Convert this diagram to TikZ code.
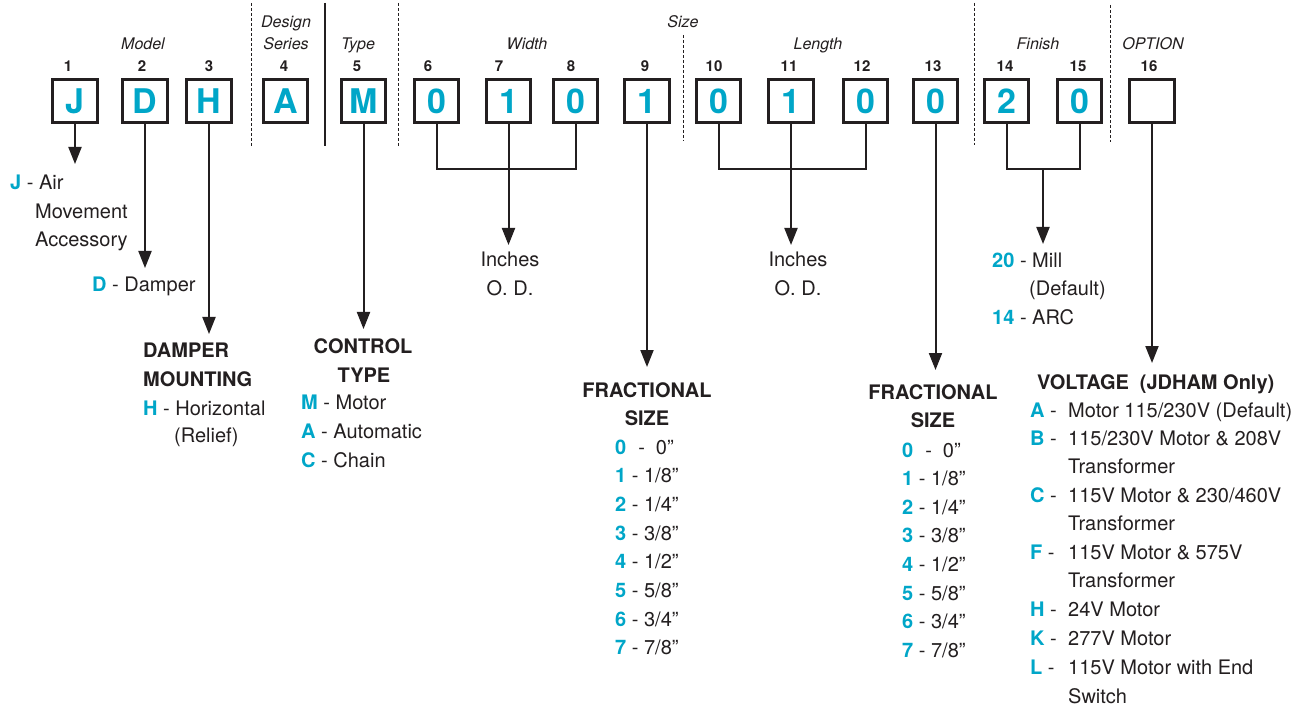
\documentclass[tikz,border=0pt]{standalone}
\usepackage{fontspec}
\setmainfont{TeX Gyre Heros}
\usetikzlibrary{arrows.meta}
\definecolor{cy}{RGB}{0,166,200}
\definecolor{ink}{RGB}{35,31,32}
\newcommand{\cy}[1]{\textcolor{cy}{\textbf{#1}}}
\begin{document}
\begin{tikzpicture}[x=1pt,y=-1pt,
  box/.style={draw=ink, line width=3.3pt, minimum width=44.5pt, minimum height=43pt, inner sep=0pt, font=\fontsize{34}{34}\selectfont\bfseries, text=cy},
  num/.style={font=\fontsize{15}{15}\selectfont\bfseries, text=ink, anchor=base, inner sep=0pt},
  grp/.style={font=\fontsize{16}{16}\selectfont\itshape, text=ink, anchor=base, inner sep=0pt},
  txt/.style={font=\fontsize{20}{20}\selectfont, text=ink, anchor=base west, inner sep=0pt},
  txc/.style={txt, anchor=base},
  hd/.style={font=\fontsize{20}{20}\selectfont\bfseries, text=ink, anchor=base, inner sep=0pt},
  hdw/.style={hd, anchor=base west},
  link/.style={draw=ink, line width=2pt},
  arr/.style={link, -{Triangle[width=13pt,length=17pt]}},
  sepd/.style={draw=ink, line width=1pt, dash pattern=on 3pt off 2pt},
  seps/.style={draw=ink, line width=1.2pt},
]
\fill[white] (0,0) rectangle (1309,711);
\useasboundingbox (0,0) rectangle (1309,711);

% separators
\coordinate (s1a) at (251,3);   \coordinate (s1b) at (251,147);
\coordinate (s2a) at (325,3);   \coordinate (s2b) at (325,146);
\coordinate (s3a) at (398,3);   \coordinate (s3b) at (398,146);
\coordinate (s4a) at (683,35);  \coordinate (s4b) at (683,141);
\coordinate (s5a) at (974,3);   \coordinate (s5b) at (974,145);
\coordinate (s6a) at (1110,5);  \coordinate (s6b) at (1110,142);
\draw[sepd] (s1a) -- (s1b);
\draw[seps] (s2a) -- (s2b);
\draw[sepd] (s3a) -- (s3b);
\draw[sepd] (s4a) -- (s4b);
\draw[sepd] (s5a) -- (s5b);
\draw[sepd] (s6a) -- (s6b);

% group labels
\node[grp] (gModel) at (143,50) {Model};
\node[grp] (gDesign) at (286,28) {Design};
\node[grp] (gSeries) at (286,50) {Series};
\node[grp] (gType) at (358,50) {Type};
\node[grp] (gWidth) at (527,50) {Width};
\node[grp] (gSize) at (683,28) {Size};
\node[grp] (gLength) at (818,50) {Length};
\node[grp] (gFinish) at (1038,50) {Finish};
\node[grp] (gOption) at (1153,50) {OPTION};

% position numbers
\node[num] (n1) at (68,72) {1};
\node[num] (n2) at (142,72) {2};
\node[num] (n3) at (209,72) {3};
\node[num] (n4) at (284,72) {4};
\node[num] (n5) at (357,72) {5};
\node[num] (n6) at (428,72) {6};
\node[num] (n7) at (499,72) {7};
\node[num] (n8) at (571,72) {8};
\node[num] (n9) at (645,72) {9};
\node[num] (n10) at (714,72) {10};
\node[num] (n11) at (789,72) {11};
\node[num] (n12) at (862,72) {12};
\node[num] (n13) at (933,72) {13};
\node[num] (n14) at (1005,72) {14};
\node[num] (n15) at (1078,72) {15};
\node[num] (n16) at (1149,72) {16};

% boxes
\node[box] (b1) at (75,101) {J};
\node[box] (b2) at (145,101) {D};
\node[box] (b3) at (209,101) {H};
\node[box] (b4) at (285.5,101) {A};
\node[box] (b5) at (363.5,101) {M};
\node[box] (b6) at (436.5,101) {0};
\node[box] (b7) at (508.5,101) {1};
\node[box] (b8) at (575.5,101) {0};
\node[box] (b9) at (647,101) {1};
\node[box] (b10) at (718.5,101) {0};
\node[box] (b11) at (791,101) {1};
\node[box] (b12) at (865.5,101) {0};
\node[box] (b13) at (935.5,101) {0};
\node[box] (b14) at (1006.5,101) {2};
\node[box] (b15) at (1079.5,101) {0};
\node[box] (b16) at (1152,101) {};

% arrow tips / bracket points
\coordinate (t1) at (75,164);
\coordinate (t2) at (145,268);
\coordinate (t3) at (209,334);
\coordinate (t5) at (363.5,329);
\coordinate (wbr) at (508.5,169);
\coordinate (tw) at (508.5,245);
\coordinate (t9) at (647,367);
\coordinate (lbr) at (791,169);
\coordinate (tl) at (791,245);
\coordinate (t13) at (935.5,370);
\coordinate (fbr) at (1043,169);
\coordinate (tf) at (1043,244);
\coordinate (t16) at (1152,363);

\draw[arr] (b1.south) -- (t1);
\draw[arr] (b2.south) -- (t2);
\draw[arr] (b3.south) -- (t3);
\draw[arr] (b5.south) -- (t5);
\draw[link] (b6.south) -- (b6.south |- wbr) -- (b8.south |- wbr) -- (b8.south);
\draw[arr] (b7.south) -- (tw);
\draw[arr] (b9.south) -- (t9);
\draw[link] (b10.south) -- (b10.south |- lbr) -- (b12.south |- lbr) -- (b12.south);
\draw[arr] (b11.south) -- (tl);
\draw[arr] (b13.south) -- (t13);
\draw[link] (b14.south) -- (b14.south |- fbr) -- (b15.south |- fbr) -- (b15.south);
\draw[arr] (fbr) -- (tf);
\draw[arr] (b16.south) -- (t16);

% Model texts
\node[txt] (jA) at (10,190) {\cy{J} - Air};
\node[txt] (jB) at (35,219) {Movement};
\node[txt] (jC) at (35,247) {Accessory};
\node[txt] (dA) at (92,291) {\cy{D} - Damper};
\node[hdw] (hA) at (143,357) {DAMPER};
\node[hdw] (hB) at (143,386) {MOUNTING};
\node[txt] (hC) at (143,415) {\cy{H} - Horizontal};
\node[txt] (hD) at (174,442) {(Relief)};

% control type
\node[hd] (cA) at (363,353) {CONTROL};
\node[hd] (cB) at (364,382) {TYPE};
\node[txt] (cC) at (301,409) {\cy{M} - Motor};
\node[txt] (cD) at (301,438) {\cy{A} - Automatic};
\node[txt] (cE) at (301,467) {\cy{C} - Chain};

% width
\node[txc] (wA) at (510,267) {Inches};
\node[txc] (wB) at (510,296) {O. D.};
% length
\node[txc] (lA) at (798,267) {Inches};
\node[txc] (lB) at (798,296) {O. D.};

% fractional left
\node[hd] (fA) at (647,397) {FRACTIONAL};
\node[hd] (fB) at (647,425) {SIZE};
\node[txt] (f0) at (615,454) {\cy{0}\hspace{12pt}-\hspace{11pt}0”};
\node[txt] (f1) at (615,482.7) {\cy{1} - 1/8”};
\node[txt] (f2) at (615,511.4) {\cy{2} - 1/4”};
\node[txt] (f3) at (615,540.1) {\cy{3} - 3/8”};
\node[txt] (f4) at (615,568.8) {\cy{4} - 1/2”};
\node[txt] (f5) at (615,597.5) {\cy{5} - 5/8”};
\node[txt] (f6) at (615,626.2) {\cy{6} - 3/4”};
\node[txt] (f7) at (615,654.9) {\cy{7} - 7/8”};

% fractional right
\node[hd] (gA) at (933,399) {FRACTIONAL};
\node[hd] (gB) at (933,427) {SIZE};
\node[txt] (g0) at (902,457) {\cy{0}\hspace{12pt}-\hspace{11pt}0”};
\node[txt] (g1) at (902,485.6) {\cy{1} - 1/8”};
\node[txt] (g2) at (902,514.2) {\cy{2} - 1/4”};
\node[txt] (g3) at (902,542.8) {\cy{3} - 3/8”};
\node[txt] (g4) at (902,571.4) {\cy{4} - 1/2”};
\node[txt] (g5) at (902,600) {\cy{5} - 5/8”};
\node[txt] (g6) at (902,628.6) {\cy{6} - 3/4”};
\node[txt] (g7) at (902,657.2) {\cy{7} - 7/8”};

% finish
\node[txt] (mA) at (992,268) {\cy{20} - Mill};
\node[txt] (mB) at (1029,295) {(Default)};
\node[txt] (mC) at (992,324) {\cy{14} - ARC};

% voltage
\node[hdw] (vH) at (1037,389) {VOLTAGE\hspace{11pt}(JDHAM Only)};
\node[txt] (vk1) at (1030,417) {\cy{A} -};
\node[txt] (vt1) at (1068,417) {Motor 115/230V (Default)};
\node[txt] (vk2) at (1030,445) {\cy{B} -};
\node[txt] (vt2) at (1068,445) {115/230V Motor \& 208V};
\node[txt] (vt2b) at (1068,473) {Transformer};
\node[txt] (vk3) at (1030,502) {\cy{C} -};
\node[txt] (vt3) at (1068,502) {115V Motor \& 230/460V};
\node[txt] (vt3b) at (1068,530) {Transformer};
\node[txt] (vk4) at (1030,559) {\cy{F} -};
\node[txt] (vt4) at (1068,559) {115V Motor \& 575V};
\node[txt] (vt4b) at (1068,587) {Transformer};
\node[txt] (vk5) at (1030,616) {\cy{H} -};
\node[txt] (vt5) at (1068,616) {24V Motor};
\node[txt] (vk6) at (1030,645) {\cy{K} -};
\node[txt] (vt6) at (1068,645) {277V Motor};
\node[txt] (vk7) at (1030,674) {\cy{L} -};
\node[txt] (vt7) at (1068,674) {115V Motor with End};
\node[txt] (vt7b) at (1068,703) {Switch};
\end{tikzpicture}
\end{document}
